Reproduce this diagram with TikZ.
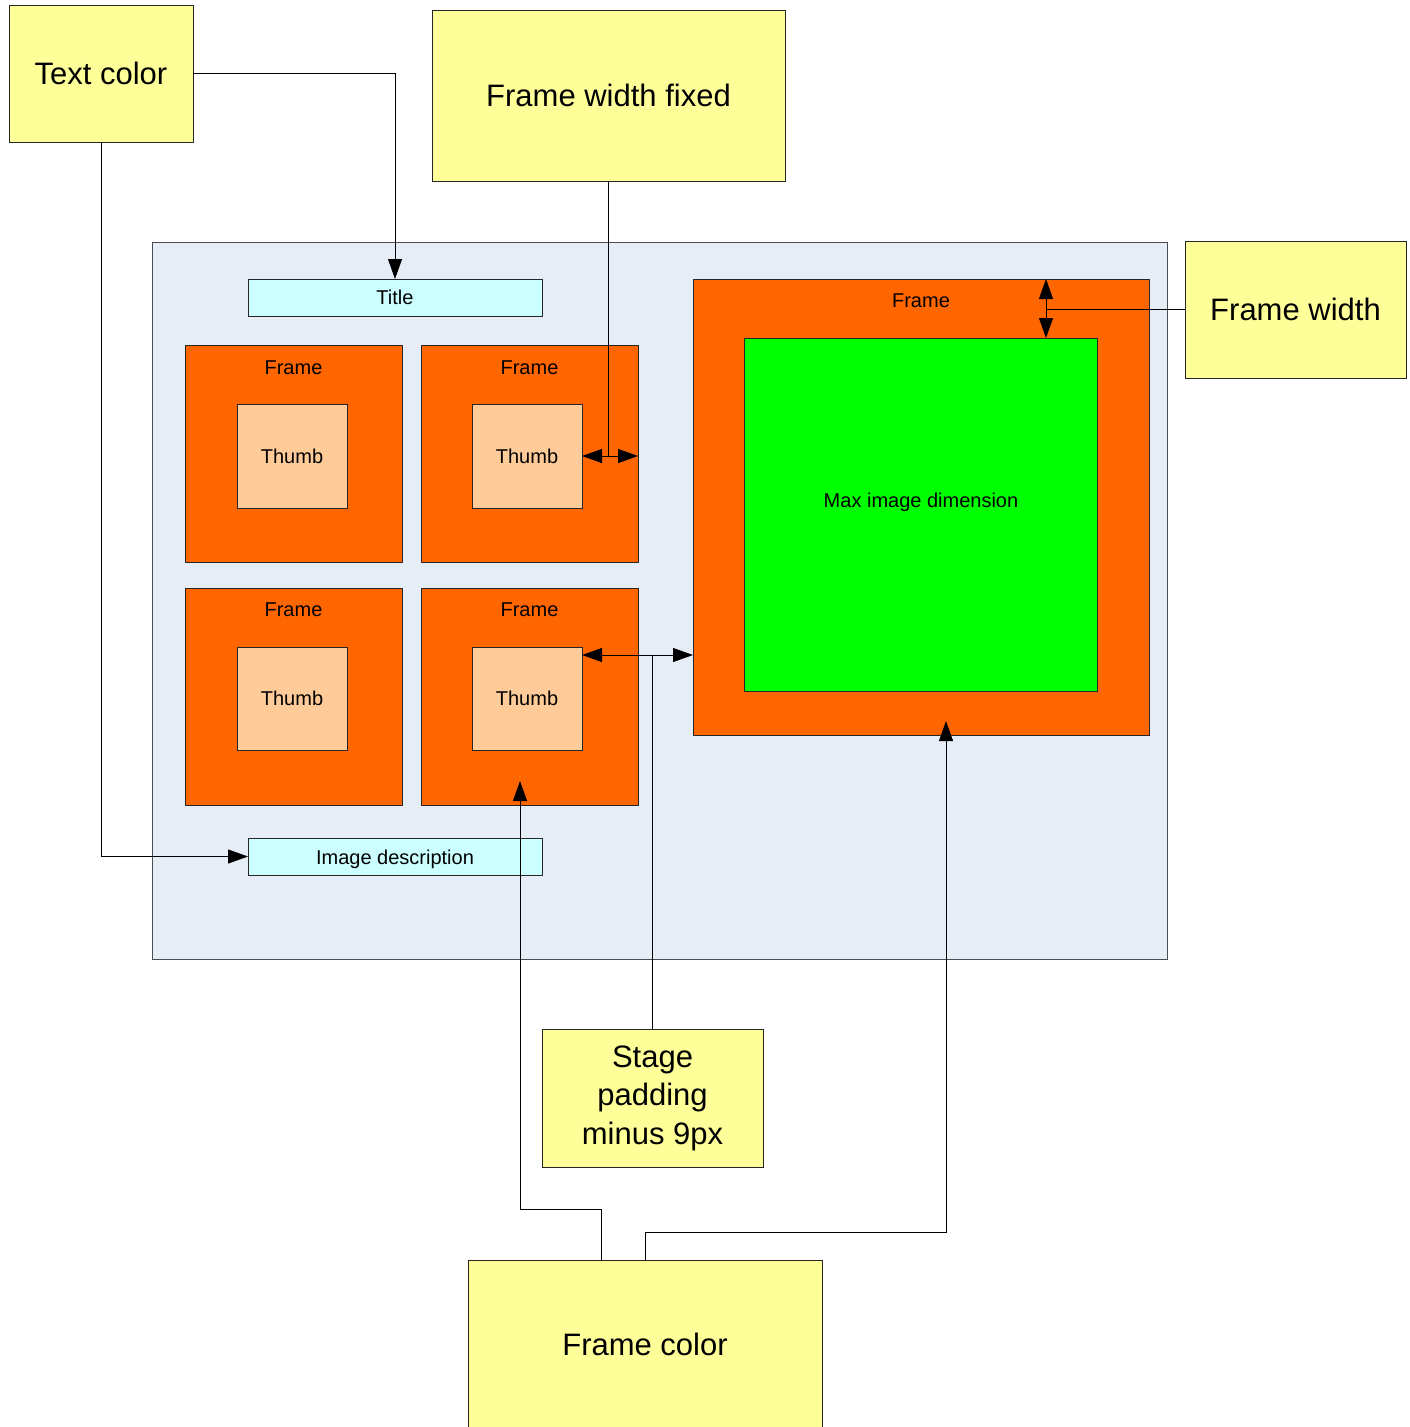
\documentclass[tikz,border=0pt]{standalone}
\usepackage{fontspec}
\setmainfont{Liberation Sans}
\usetikzlibrary{arrows.meta}
\definecolor{note}{HTML}{FFFF99}
\definecolor{stagec}{HTML}{E7EDF7}
\definecolor{titlec}{HTML}{CCFFFF}
\definecolor{framec}{HTML}{FF6600}
\definecolor{thumbc}{HTML}{FFCC99}
\definecolor{greenc}{HTML}{00FF00}
\begin{document}
\begin{tikzpicture}[x=1pt,y=-1pt,
  box/.style={draw=black!85,line width=1pt,inner sep=0pt,outer sep=0pt},
  notebox/.style={box,fill=note,font=\fontsize{31}{38}\selectfont,align=center},
  label/.style={box,fill=titlec,font=\fontsize{20}{24}\selectfont},
  framebox/.style={box,fill=framec},
  thumbbox/.style={box,fill=thumbc,font=\fontsize{20}{24}\selectfont},
  small/.style={font=\fontsize{20}{24}\selectfont,inner sep=0pt},
  conn/.style={line width=0.9pt,draw=black},
  arr/.style={conn,-{Triangle[length=20pt,width=14pt]}},
  darr/.style={conn,{Triangle[length=20pt,width=14pt]}-{Triangle[length=20pt,width=14pt]}}]
\path[use as bounding box,clip] (0,0) rectangle (1410,1427);
\fill[white] (0,0) rectangle (1410,1427);
% stage
\node[box,draw=black!70,fill=stagec,minimum width=1015,minimum height=717] (stage) at (659.5,600.5) {};
% title and description
\node[label,minimum width=294,minimum height=37] (title) at (395,297.5) {Title};
\node[label,minimum width=294,minimum height=37,text depth=0pt] (desc) at (395,856.5) {\raisebox{-2pt}{Image description}};
% small frames
\node[framebox,minimum width=217,minimum height=217] (f1) at (293.5,453.5) {};
\node[framebox,minimum width=217,minimum height=217] (f2) at (529.5,453.5) {};
\node[framebox,minimum width=217,minimum height=217] (f3) at (293.5,696.5) {};
\node[framebox,minimum width=217,minimum height=217] (f4) at (529.5,696.5) {};
\node[small] (f1l) at (293.5,368) {Frame};
\node[small] (f2l) at (529.5,368) {Frame};
\node[small] (f3l) at (293.5,610) {Frame};
\node[small] (f4l) at (529.5,610) {Frame};
\node[thumbbox,minimum width=110,minimum height=104] (t1) at (292,456) {Thumb};
\node[thumbbox,minimum width=110,minimum height=104] (t2) at (527,456) {Thumb};
\node[thumbbox,minimum width=110,minimum height=103] (t3) at (292,698.5) {Thumb};
\node[thumbbox,minimum width=110,minimum height=103] (t4) at (527,698.5) {Thumb};
% big frame
\node[framebox,minimum width=456,minimum height=456] (bf) at (921,507) {};
\node[small] (bfl) at (921,301) {Frame};
\node[box,fill=greenc,minimum width=353,minimum height=353] (green) at (920.5,514.5) {};
\node[small] (gl) at (921,502) {Max image dimension};
% notes
\node[notebox,minimum width=184,minimum height=137] (tc) at (101,73.5) {Text color};
\node[notebox,minimum width=353,minimum height=171] (fwf) at (608.5,95.5) {Frame width fixed};
\node[notebox,minimum width=221,minimum height=137] (fw) at (1295.5,309.5) {Frame width};
\node[notebox,minimum width=221,minimum height=138,font=\fontsize{31}{38.5}\selectfont] (sp) at (652.5,1098) {\raisebox{-3pt}{\parbox{200pt}{\centering Stage\\padding\\minus 9px}}};
\node[notebox,minimum width=354,minimum height=168] (fc) at (645,1344) {Frame color};
% connectors
\draw[arr] (tc.east) -| (title.north);
\draw[arr] (tc.south) |- (desc.west);
\draw[conn] (fwf.south) -- (fwf.south |- t2.east);
\draw[darr] (t2.east) -- (f2.east |- t2.east);
\coordinate (fwj) at (1046,309.5);
\draw[conn] (fw.west) -- (fwj);
\draw[darr] (fwj |- bf.north) -- (fwj |- green.north);
\coordinate (spj) at (652.5,655);
\draw[conn] (sp.north) -- (spj);
\draw[darr] (t4.east |- spj) -- (bf.west |- spj);
\coordinate (fca) at (601,1260);
\coordinate (fcb) at (520,1209);
\coordinate (f4tip) at (520,781);
\draw[arr] (fca) |- (fcb) -- (f4tip);
\coordinate (fcc) at (946,1232);
\coordinate (bftip) at (946,721);
\draw[arr] (fc.north) |- (fcc) -- (bftip);
\end{tikzpicture}
\end{document}
